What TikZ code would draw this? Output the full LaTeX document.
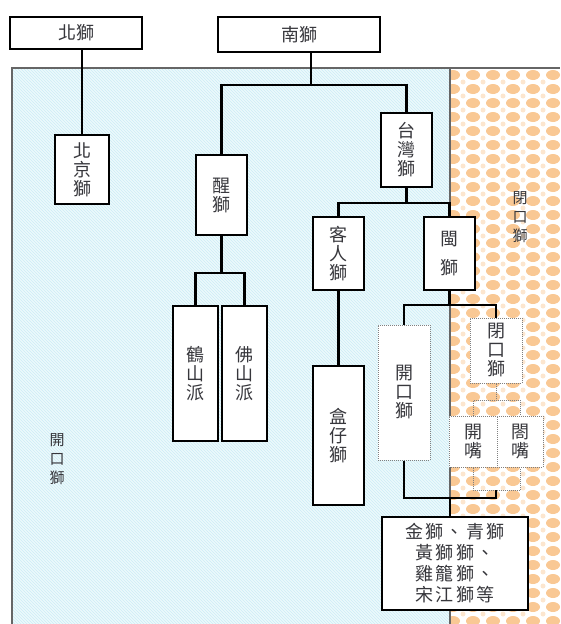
\documentclass[tikz,border=0pt]{standalone}
\usepackage{fontspec}
\newfontfamily\cjk{Noto Sans CJK TC}
\newfontfamily\cjkwide[LetterSpace=12]{Noto Sans CJK TC}
\usepackage{tikz}
\usetikzlibrary{patterns,positioning}
\definecolor{skyfill}{RGB}{236,250,252}
\definecolor{skyline}{RGB}{205,236,246}
\definecolor{peach}{RGB}{249,200,148}
\definecolor{inkgray}{RGB}{55,55,60}
\tikzset{
	x=1pt, y=-1pt,
	box/.style ={draw, line width=2.4pt, fill=white, inner sep=0pt, align=center, text=inkgray,
		font=\cjk\fontsize{18}{19}\selectfont},
	dotbox/.style ={box, draw=gray, line width=1pt, densely dotted},
	conn/.style = {line width=2.4pt},
	dotconn/.style = {line width=1pt, draw=gray, densely dotted},
	zone/.style = {text=inkgray, align=center, font=\cjk\fontsize{15}{19}\selectfont}
}
\begin{document}
\begin{tikzpicture}
	\useasboundingbox (0,0) rectangle (560,624);

	% background zones
	\fill[skyfill] (12,68) rectangle (450,630);
	\fill[pattern=north west lines, pattern color=skyline] (12,68) rectangle (450,630);
	\begin{scope}
		\clip (450,68) rectangle (560,630);
		\foreach \r in {0,...,40}
			\foreach \c in {0,...,6} {
				\fill[peach] ({453+20*\c},{75+14*\r}) ellipse (7 and 5);
				\fill[peach!45] ({463+20*\c},{82+14*\r}) circle (2.5);
			}
	\end{scope}
	\draw[line width=1.2pt, gray!80!black] (12,630) -- (12,68) -- (560,68);
	\draw[line width=1.2pt, gray!80!black] (450,68) -- (450,630);
	\node[zone] (kaizone) at (57,459) {開\\口\\獅};
	\node[zone] (bizone) at (520,217) {閉\\口\\獅};

	% top
	\node[box, minimum width=132, minimum height=32] (bei) at (76,33) {北獅};
	\node[box, minimum width=162, minimum height=35] (nan) at (299,34.5) {南獅};

	% first level
	\node[box, minimum width=54, minimum height=69] (beijing) at (82,169.5) {北\\京\\獅};
	\node[box, minimum width=51, minimum height=80] (xing) at (221.5,195) {醒\\獅};
	\node[box, minimum width=51, minimum height=74] (taiwan) at (406.5,150) {台\\灣\\獅};
	\node[box, minimum width=51, minimum height=73] (keren) at (338.5,253.5) {客\\人\\獅};
	\node[box, minimum width=51, minimum height=73] (min) at (449.5,253.5) {閩\\[10pt]獅};

	% second level
	\node[box, minimum width=45, minimum height=135] (heshan) at (195.5,373.5) {鶴\\山\\派};
	\node[box, minimum width=45, minimum height=135] (foshan) at (244.5,373.5) {佛\\山\\派};
	\node[box, minimum width=51, minimum height=139] (hezai) at (338.5,435.5) {盒\\仔\\獅};
	\node[dotbox, minimum width=52, minimum height=135] (kaikou) at (404,392.5) {開\\口\\獅};
	\node[dotbox, minimum width=52, minimum height=65] (bikou) at (496,350.5) {閉\\口\\獅};
	\node[dotbox, minimum width=48, minimum height=51] (kaizui) at (473,441.5) {開\\嘴};
	\node[dotbox, minimum width=46, minimum height=51] (hezui) at (520,441.5) {閤\\嘴};
	\node[box, minimum width=146, minimum height=93, font=\cjkwide\fontsize{18}{21}\selectfont] (others) at (455,563.5)
		{金獅、青獅\\黃獅獅、\\雞籠獅、\\宋江獅等};

	% joints
	\coordinate (jn) at (311,85);
	\coordinate (jt) at (406.5,203);
	\coordinate (jx) at (221.5,273);
	\coordinate (jm) at (449.5,305);
	\coordinate (jb) at (496,400);
	\coordinate (jz) at (496,490);
	\coordinate (jo) at (450,498);

	% connectors
	\draw[conn] (bei.south -| beijing.north) -- (beijing.north);
	\draw[conn] (nan.south -| jn) -- (jn);
	\draw[conn] (xing.north) |- (jn) -| (taiwan.north);
	\draw[conn] (taiwan.south) -- (jt);
	\draw[conn] (keren.north) |- (jt) -| (min.north);
	\draw[conn] (xing.south) -- (jx);
	\draw[conn] (heshan.north) |- (jx) -| (foshan.north);
	\draw[conn] (keren.south) -- (hezai.north);
	\draw[conn] (min.south) -- (jm);
	\draw[conn] (kaikou.north) |- (jm) -| (bikou.north);
	\draw[dotconn] (bikou.south) -- (jb);
	\draw[dotconn] (kaizui.north) |- (jb) -| (hezui.north);
	\draw[dotconn] (kaizui.south) |- (jz) -| (hezui.south);
	\draw[conn] (kaikou.south) |- (jz |- jo) -- (jz);
	\draw[conn] (jo) -- (jo |- others.north);
\end{tikzpicture}
\end{document}
